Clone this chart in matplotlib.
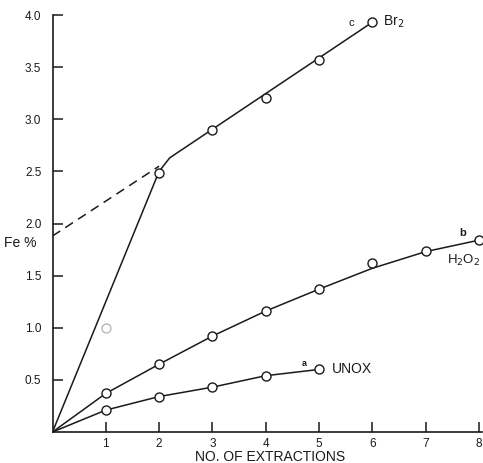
import matplotlib
matplotlib.use("Agg")
import matplotlib.pyplot as plt

plt.rcParams.update({"font.family": ["Liberation Sans", "DejaVu Sans"], "font.size": 9})
INK = "#1a1a1a"

# a: unoxidised
UNOX_X = [1, 2, 3, 4, 5]
UNOX_Y = [0.21, 0.34, 0.43, 0.54, 0.60]
# b: H2O2
H2O2_X = [1, 2, 3, 4, 5, 6, 7, 8]
H2O2_Y = [0.37, 0.65, 0.92, 1.16, 1.37, 1.62, 1.74, 1.84]
H2O2_CURVE_Y = [0.37, 0.65, 0.92, 1.16, 1.37, 1.57, 1.73, 1.84]
# c: Br2
BR2_X = [1, 2, 3, 4, 5, 6]
BR2_Y = [1.00, 2.48, 2.90, 3.20, 3.57, 3.93]
BR2_CURVE_X = [0, 2, 2.2, 6]
BR2_CURVE_Y = [0, 2.50, 2.63, 3.93]
# extrapolation of the linear part back to zero extractions
EXTRAP_X = [0, 2]
EXTRAP_Y = [1.88, 2.55]

X_TICKS = [1, 2, 3, 4, 5, 6, 7, 8]
Y_TICKS = [0.5, 1.0, 1.5, 2.0, 2.5, 3.0, 3.5, 4.0]

fig = plt.figure(figsize=(4.83, 4.63), dpi=100)
ax = fig.add_axes([52.5 / 483, 31 / 463, 429 / 483, 417 / 463])
ax.set_xlim(0, 8.05)
ax.set_ylim(0, 4.0)

mk = dict(marker="o", markersize=6.5, markerfacecolor="white", markeredgecolor=INK,
          markeredgewidth=1.0, linestyle="none", zorder=4)

# curves
ax.plot([0] + UNOX_X, [0] + UNOX_Y, color=INK, lw=1.1)
ax.plot([0] + H2O2_X, [0] + H2O2_CURVE_Y, color=INK, lw=1.1)
ax.plot(BR2_CURVE_X, BR2_CURVE_Y, color=INK, lw=1.1)
ax.plot(EXTRAP_X, EXTRAP_Y, color=INK, lw=1.1, ls=(0, (6, 4)))

# points
ax.plot(UNOX_X, UNOX_Y, **mk)
ax.plot(H2O2_X, H2O2_Y, **mk)
ax.plot(BR2_X[1:], BR2_Y[1:], **mk)
ax.plot(BR2_X[:1], BR2_Y[:1], marker="o", markersize=6.5, markerfacecolor="white",
        markeredgecolor="#b0b0b0", markeredgewidth=0.9, linestyle="none", zorder=4)

# curve labels
ax.text(5.6, 3.92, "c", ha="center", va="center", fontsize=8, color=INK)
ax.text(6.2, 3.93, "Br$_2$", ha="left", va="center", fontsize=10, color=INK)
ax.text(7.7, 1.91, "b", ha="center", va="center", fontsize=8, fontweight="bold", color=INK)
ax.text(7.4, 1.65, "H$_2$O$_2$", ha="left", va="center", fontsize=9.5, color=INK)
ax.text(4.73, 0.66, "a", ha="center", va="center", fontsize=6.5, fontweight="bold", color=INK)
ax.text(5.25, 0.60, "UNOX", ha="left", va="center", fontsize=10, color=INK)

# axes styling
for s in ("top", "right"):
    ax.spines[s].set_visible(False)
for s in ("left", "bottom"):
    ax.spines[s].set_linewidth(1.2)
    ax.spines[s].set_color(INK)
ax.set_xticks(X_TICKS)
ax.set_yticks(Y_TICKS)
ax.set_xticklabels([str(t) for t in X_TICKS])
ax.set_yticklabels([f"{t:.1f}" for t in Y_TICKS])
ax.tick_params(direction="in", length=7, width=1.1, colors=INK, labelsize=8.5)
ax.tick_params(axis="x", pad=4)
ax.tick_params(axis="y", pad=8)

fig.text(20 / 483, 1 - 243 / 463, "Fe %", ha="center", va="center", fontsize=10, color=INK)
fig.text(270 / 483, 1 - 457 / 463, "NO. OF EXTRACTIONS", ha="center", va="center",
         fontsize=10, color=INK)

fig.savefig("out.png", dpi=100, facecolor="white")
